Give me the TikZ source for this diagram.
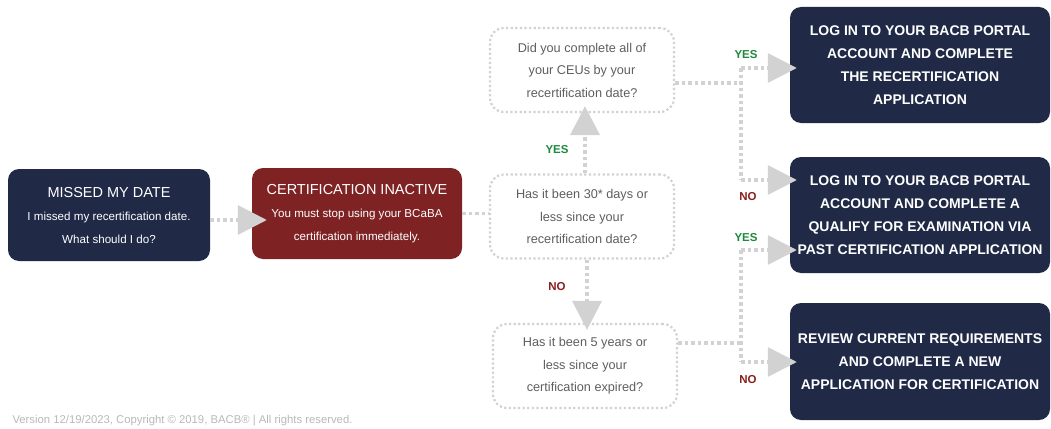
\documentclass[tikz,border=0pt]{standalone}
\usepackage{fontspec}
\setmainfont{Liberation Sans}
\usetikzlibrary{arrows.meta,positioning}

\definecolor{bacbnavy}{HTML}{202A47}
\definecolor{bacbred}{HTML}{7F2224}
\definecolor{dotgray}{HTML}{D2D2D2}
\definecolor{askgray}{HTML}{5E5E5E}
\definecolor{yesgreen}{HTML}{1B8A3C}
\definecolor{nored}{HTML}{8A1F1F}
\definecolor{footgray}{HTML}{B8B8B8}

\begin{document}
\begin{tikzpicture}[
    x=1pt,y=-1pt,
    darkbox/.style={rectangle,rounded corners=11pt,fill=bacbnavy,text=white,align=center,inner sep=0pt},
    startbox/.style={darkbox,minimum width=202pt,minimum height=92pt,font=\fontsize{11.6}{23}\selectfont},
    stopbox/.style={startbox,fill=bacbred,minimum width=210pt,minimum height=91pt},
    endbox/.style={darkbox,minimum width=260pt,minimum height=116pt,font=\bfseries\fontsize{14}{23}\selectfont},
    askbox/.style={rectangle,rounded corners=14pt,draw=dotgray,line width=2.2pt,dash pattern=on 2.2pt off 2.4pt,text=askgray,align=center,inner sep=0pt,minimum width=184pt,minimum height=84pt,font=\fontsize{12.7}{22.5}\selectfont},
    flow/.style={color=dotgray,line width=3.5pt,dash pattern=on 3.5pt off 3pt},
    flowtip/.style={flow,-{Triangle[length=29pt,width=29pt]},shorten >=-7pt},
    yeslabel/.style={text=yesgreen,font=\bfseries\fontsize{11.5}{14}\selectfont},
    nolabel/.style={text=nored,font=\bfseries\fontsize{11.5}{14}\selectfont}
    ]

    \useasboundingbox (0,0) rectangle (1051,428);

    \node (missed) [startbox] at (109,215)
      {{\fontsize{14.5}{23}\selectfont MISSED MY DATE}\\I missed my recertification date.\\What should I do?};
    \node (inactive) [stopbox] at (357,213.5)
      {{\fontsize{14.5}{23}\selectfont CERTIFICATION INACTIVE}\\You must stop using your BCaBA\\certification immediately.};

    \node (askceu) [askbox] at (582,70)
      {Did you complete all of\\your CEUs by your\\recertification date?};
    \node (ask30) [askbox] at (582,216.5)
      {Has it been 30* days or\\less since your\\recertification date?};
    \node (askfive) [askbox] at (585,366)
      {Has it been 5 years or\\less since your\\certification expired?};

    \node (recert) [endbox] at (920,65)
      {LOG IN TO YOUR BACB PORTAL\\ACCOUNT AND COMPLETE\\THE RECERTIFICATION\\APPLICATION};
    \node (pastcert) [endbox] at (920,215)
      {LOG IN TO YOUR BACB PORTAL\\ACCOUNT AND COMPLETE A\\QUALIFY FOR EXAMINATION VIA\\PAST CERTIFICATION APPLICATION};
    \node (newapp) [endbox,minimum height=117pt] at (920,361.5)
      {REVIEW CURRENT REQUIREMENTS\\AND COMPLETE A NEW\\APPLICATION FOR CERTIFICATION};

    \draw[flowtip,shorten >=-15pt] ([yshift=-5pt]missed.east) -- ([yshift=-5pt]missed.east -| inactive.west);
    \draw[flow] (inactive.east) -- (inactive.east -| ask30.west);

    \draw[flowtip] ([xshift=3pt]ask30.north) -- ([xshift=3pt]ask30.north |- askceu.south);
    \node (yesup) [yeslabel] at (557,150) {YES};
    \draw[flowtip] ([xshift=5pt]ask30.south) -- ([xshift=5pt]ask30.south |- askfive.north);
    \node (nodown) [nolabel] at (557,287) {NO};

    \coordinate (jceu) at (741,83);
    \coordinate (jceuyes) at (741,68);
    \coordinate (jceuno) at (741,180);
    \coordinate (jfive) at (741,343);
    \coordinate (jfiveyes) at (741,250);
    \coordinate (jfiveno) at (741,362);

    \draw[flow] (askceu.east |- jceu) -- (jceu);
    \draw[flow] (jceuyes) -- (jceuno);
    \draw[flow] (askfive.east |- jfive) -- (jfive);
    \draw[flow] (jfiveyes) -- (jfiveno);

    \foreach \j/\b in {jceuyes/recert,jceuno/pastcert,jfiveyes/pastcert,jfiveno/newapp}
      \draw[flowtip] (\j) -- (\j -| \b.west);

    \node (yesceu) [yeslabel] at (746,55) {YES};
    \node (noceu) [nolabel] at (748,197) {NO};
    \node (yesfive) [yeslabel] at (746,238) {YES};
    \node (nofive) [nolabel] at (748,380) {NO};

    \node (footer) [anchor=west,text=footgray,font=\fontsize{11.3}{13}\selectfont] at (9,421)
      {Version 12/19/2023, Copyright © 2019, BACB® | All rights reserved.};

  \end{tikzpicture}
\end{document}
